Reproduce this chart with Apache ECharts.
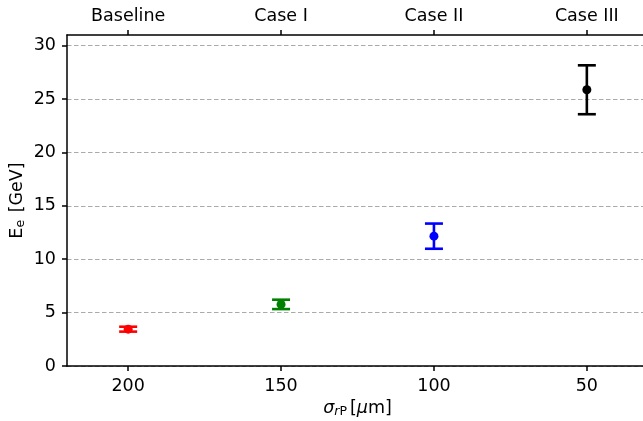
<!DOCTYPE html>
<html>
<head>
<meta charset="utf-8">
<script src="https://cdn.jsdelivr.net/npm/echarts@6/dist/echarts.min.js"></script>
<style>
  html, body { margin: 0; padding: 0; background: #fff; }
  #chart { width: 643px; height: 421px; }
</style>
</head>
<body>
<div id="chart"></div>
<script>
// scenario names shown on the top axis
const cases = ['Baseline', 'Case I', 'Case II', 'Case III']
// sigma_rP [um] for each scenario
const sigma = [200, 150, 100, 50]
// E_e [GeV] central values and symmetric errors
const energy = [3.45, 5.77, 12.16, 25.87]
const energyErr = [0.23, 0.44, 1.18, 2.29]
const xTicks = [200, 150, 100, 50]
const yTicks = [0, 5, 10, 15, 20, 25, 30]

const colors = ['#ff0000', '#008000', '#0000ff', '#000000']
const font = 'DejaVu Sans'
const fs = 17.5

const chart = echarts.init(document.getElementById('chart'), null, { renderer: 'canvas' })

const points = sigma.map((s, i) => ({
  value: [s, energy[i], energyErr[i]],
  itemStyle: { color: colors[i], opacity: 1 }
}))

const axisLine = { show: true, lineStyle: { color: '#000', width: 1.5 } }
const axisTick = { show: true, inside: false, length: 5, lineStyle: { color: '#000', width: 1.5 } }
const labelStyle = { color: '#000', fontFamily: font, fontSize: fs }

chart.setOption({
  animation: false,
  grid: { left: 67, top: 35, right: -5, bottom: 55, outerBoundsMode: 'none', containLabel: false },
  xAxis: [
    {
      type: 'value',
      position: 'bottom',
      inverse: true,
      min: 30,
      max: 220,
      axisLine: axisLine,
      axisTick: Object.assign({ customValues: xTicks }, axisTick),
      axisLabel: Object.assign({ customValues: xTicks, margin: 11 }, labelStyle),
      splitLine: { show: false },
      name: '{i|σ}{subi|r}{sub|P}[{i|μ}m]',
      nameLocation: 'middle',
      nameGap: 33,
      nameMoveOverlap: false,
      nameTextStyle: {
        color: '#000',
        fontFamily: font,
        fontSize: fs,
        rich: {
          i: { fontFamily: font, fontSize: fs, fontStyle: 'italic', color: '#000' },
          subi: { fontFamily: font, fontSize: 12.5, fontStyle: 'italic', color: '#000', verticalAlign: 'bottom', padding: [6, 0, 0, 0] },
          sub: { fontFamily: font, fontSize: 12.5, color: '#000', verticalAlign: 'bottom', padding: [6, 3, 0, 0] }
        }
      }
    },
    {
      type: 'value',
      position: 'top',
      inverse: true,
      min: 30,
      max: 220,
      axisLine: axisLine,
      axisTick: Object.assign({ customValues: xTicks }, axisTick),
      axisLabel: Object.assign({
        customValues: xTicks,
        margin: 10,
        formatter: v => cases[sigma.indexOf(v)] || ''
      }, labelStyle),
      splitLine: { show: false }
    }
  ],
  yAxis: {
    type: 'value',
    min: 0,
    max: 31,
    interval: 5,
    axisLine: axisLine,
    axisTick: Object.assign({ customValues: yTicks }, axisTick),
    axisLabel: Object.assign({ customValues: yTicks, margin: 11 }, labelStyle),
    splitLine: { show: true, lineStyle: { color: '#aaaaaa', width: 1, type: [4.5, 2.5] } },
    name: 'E{sub|e} [GeV]',
    nameLocation: 'middle',
    nameGap: 40,
    nameMoveOverlap: false,
    nameTextStyle: {
      color: '#000',
      fontFamily: font,
      fontSize: fs,
      rich: {
        sub: { fontFamily: font, fontSize: 12.5, color: '#000', verticalAlign: 'bottom', padding: [6, 2, 0, 0] }
      }
    }
  },
  series: [
    {
      type: 'custom',
      xAxisIndex: 0,
      data: points,
      z: 2,
      renderItem: function (params, api) {
        const x = api.value(0)
        const y = api.value(1)
        const e = api.value(2)
        const top = api.coord([x, y + e])
        const bot = api.coord([x, y - e])
        const hw = 9
        const style = { stroke: colors[params.dataIndex], lineWidth: 2.6 }
        return {
          type: 'group',
          children: [
            { type: 'line', shape: { x1: top[0], y1: top[1], x2: bot[0], y2: bot[1] }, style: style },
            { type: 'line', shape: { x1: top[0] - hw, y1: top[1], x2: top[0] + hw, y2: top[1] }, style: style },
            { type: 'line', shape: { x1: bot[0] - hw, y1: bot[1], x2: bot[0] + hw, y2: bot[1] }, style: style }
          ]
        }
      }
    },
    {
      type: 'scatter',
      xAxisIndex: 0,
      symbol: 'circle',
      symbolSize: 9,
      z: 3,
      data: points.map(p => ({ value: [p.value[0], p.value[1]], itemStyle: p.itemStyle }))
    }
  ]
})
</script>
</body>
</html>
